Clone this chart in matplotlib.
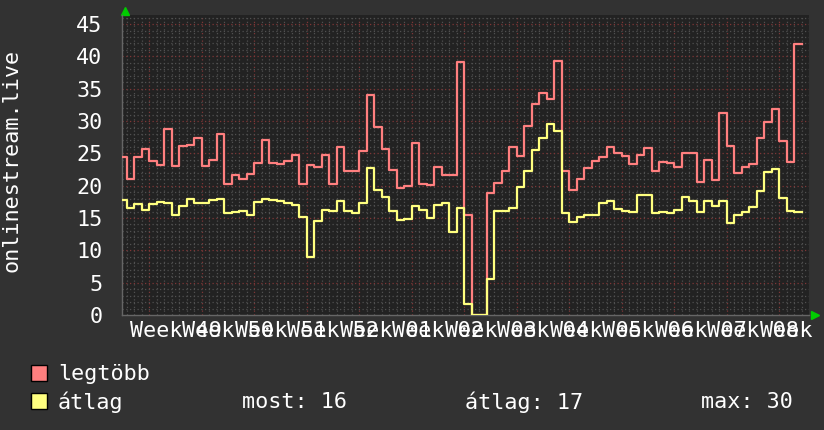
import numpy as np
import matplotlib
matplotlib.use("Agg")
import matplotlib.pyplot as plt
from matplotlib.patches import Rectangle

# napi adatok, az elso nap csak reszben latszik
napok = np.arange(-1, 90)
legtobb = [24.4, 21.0, 24.4, 25.7, 23.8, 23.2, 28.8, 23.0, 26.2, 26.3,
           27.3, 23.0, 23.95, 27.95, 20.3, 21.7, 21.1, 21.8, 23.5, 27.1,
           23.5, 23.4, 23.8, 24.7, 20.3, 23.2, 22.9, 24.8, 20.3, 26.05,
           22.3, 22.3, 25.3, 34.0, 29.1, 25.7, 22.5, 19.7, 20.0, 26.6,
           20.3, 20.15, 22.9, 21.7, 21.7, 39.1, 15.4, 0.0, 0.0, 18.8,
           20.35, 22.3, 26.0, 24.6, 29.3, 32.7, 34.4, 33.4, 39.3, 22.2,
           19.4, 21.1, 22.7, 23.85, 24.5, 26.05, 25.1, 24.6, 23.4, 24.7,
           25.9, 22.25, 23.7, 23.5, 22.9, 25.0, 25.1, 20.6, 24.05, 20.9,
           31.2, 26.15, 21.9, 22.9, 23.4, 27.3, 29.9, 31.9, 26.9, 23.7,
           41.9]
atlag = [17.8, 16.6, 17.1, 16.3, 17.2, 17.5, 17.4, 15.5, 16.9, 17.95,
         17.3, 17.4, 17.85, 17.95, 15.8, 15.95, 16.05, 15.5, 17.5, 17.95,
         17.8, 17.6, 17.3, 17.0, 15.2, 8.97, 14.6, 16.2, 16.05, 17.6,
         16.05, 15.85, 17.4, 22.8, 19.3, 18.2, 16.15, 14.7, 14.9, 16.8,
         16.2, 15.0, 17.0, 17.3, 12.8, 16.6, 1.7, 0.0, 0.0, 5.6,
         16.05, 16.05, 16.6, 19.85, 22.3, 25.5, 27.4, 29.5, 28.5, 15.8,
         14.35, 15.2, 15.5, 15.4, 17.4, 17.6, 16.35, 16.15, 15.9, 18.6,
         18.6, 15.8, 15.95, 15.8, 16.2, 18.3, 17.7, 15.95, 17.6, 16.8,
         17.7, 14.25, 15.4, 15.9, 16.65, 19.2, 22.05, 22.6, 18.1, 16.05,
         15.9]
hetek = ["49", "50", "51", "52", "01", "02", "03", "04", "05", "06", "07", "08", "09"]
most, atl, maxi = 16, 17, 30

plt.rcParams['font.family'] = ['DejaVu Sans Mono']
plt.rcParams['font.size'] = 15.7

fig = plt.figure(figsize=(8.24, 4.3), dpi=100, facecolor='#323232')
ax = fig.add_axes([122 / 824, 115 / 430, 687 / 824, 300 / 430])
ax.set_facecolor('#222222')
ax.set_xlim(-0.64, 90.96)
ax.set_ylim(0, 46.4)

# racs
for d in range(0, 91):
    if (d - 3) % 7 == 0:
        ax.axvline(d, color='#7e3636', lw=0.9, ls=(0, (1, 2)), zorder=1)
    else:
        ax.axvline(d, color='#505050', lw=0.9, ls=(0, (1, 2)), zorder=1)
for v in range(1, 47):
    if v % 5 == 0:
        ax.axhline(v, color='#7e3636', lw=0.9, ls=(0, (1, 2)), zorder=1)
    else:
        ax.axhline(v, color='#505050', lw=0.9, ls=(0, (1, 2)), zorder=1)

x = np.append(napok, napok[-1] + 1)
ax.plot(x, legtobb + [legtobb[-1]], drawstyle='steps-post', color='#ff7f7f', lw=1.6, zorder=3)
ax.plot(x, atlag + [atlag[-1]], drawstyle='steps-post', color='#ffff7f', lw=1.6, zorder=3)

for s in ['top', 'right']:
    ax.spines[s].set_visible(False)
for s in ['left', 'bottom']:
    ax.spines[s].set_color('#666666')
    ax.spines[s].set_linewidth(1)

ax.set_yticks(range(0, 50, 5))
ax.set_xticks([6.5 + 7 * i for i in range(len(hetek))])
ax.set_xticklabels(["Week " + h for h in hetek])
ax.tick_params(axis='both', length=0, colors='white')
ax.tick_params(axis='y', pad=14)
ax.tick_params(axis='x', pad=4)

# nyilak
ax.plot([0.004], [1.015], marker='^', color='#00cc00', ms=6, transform=ax.transAxes, clip_on=False)
ax.plot([1.009], [0.0], marker='>', color='#00cc00', ms=6, transform=ax.transAxes, clip_on=False)

fig.text(12 / 824, 1 - 160 / 430, 'onlinestream.live', rotation=90, color='white', ha='center', va='center')

# jelmagyarazat
fig.add_artist(Rectangle((31 / 824, 1 - 381 / 430), 16 / 824, 16 / 430, transform=fig.transFigure,
                         facecolor='#ff7f7f', edgecolor='black', lw=1))
fig.add_artist(Rectangle((31 / 824, 1 - 409 / 430), 16 / 824, 16 / 430, transform=fig.transFigure,
                         facecolor='#ffff7f', edgecolor='black', lw=1))
fig.text(58 / 824, 1 - 374 / 430, 'legtöbb', color='white', va='center')
fig.text(58 / 824, 1 - 402 / 430, 'átlag', color='white', va='center')
fig.text(242 / 824, 1 - 402 / 430, 'most: %d' % most, color='white', va='center')
fig.text(465 / 824, 1 - 402 / 430, 'átlag: %d' % atl, color='white', va='center')
fig.text(701 / 824, 1 - 402 / 430, 'max: %d' % maxi, color='white', va='center')

fig.savefig('out.png', dpi=100, facecolor=fig.get_facecolor())
